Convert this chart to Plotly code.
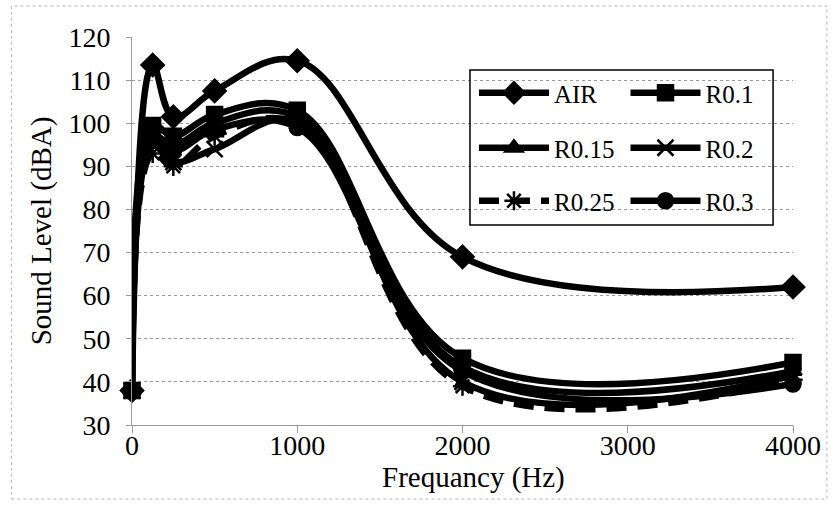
import plotly.graph_objects as go

# Octave-band centre frequencies (Hz) and measured sound levels (dBA)
frequency = [0, 125, 250, 500, 1000, 2000, 4000]
series_names = ["AIR", "R0.1", "R0.15", "R0.2", "R0.25", "R0.3"]
air = [38, 113.5, 101.5, 107.5, 114.5, 69, 62]
r010 = [38, 99.5, 97, 102, 103, 45.5, 44.5]
r015 = [38, 97, 95, 100, 101.5, 43.5, 42.5]
r020 = [38, 95, 91, 94, 100.5, 40, 41.5]
r025 = [38, 93, 90, 97, 100, 39, 40.5]
r030 = [38, 96, 93.5, 98.5, 99, 42.5, 39.5]
x_ticks = [0, 1000, 2000, 3000, 4000]
y_ticks = [30, 40, 50, 60, 70, 80, 90, 100, 110, 120]
x_title = "Frequancy (Hz)"
y_title = "Sound Level (dBA)"

W, H = 833, 524
L, R, T, B = 132, 38, 37, 99
PW, PH = W - L - R, H - T - B
FONT = "Liberation Serif, Times New Roman, serif"


def px_x(px):
    return (px - L) / PW


def px_y(py):
    return (H - B - py) / PH


values = [air, r010, r015, r020, r025, r030]
symbols = ["diamond", "square", "triangle-up", "x-thin-open", "asterisk-open", "circle"]
marker_sizes = [17, 15, 15, 16, 16, 15]
dashes = ["solid", "solid", "solid", "solid", "20px,11px", "solid"]
# legend slots: (symbol left edge px, row centre px)
legend_slots = [(475, 93), (627, 93), (475, 148), (627, 148), (475, 201), (627, 201)]

fig = go.Figure()
for i, (name, ys) in enumerate(zip(series_names, values)):
    lg = "legend" if i == 0 else f"legend{i + 1}"
    fig.add_trace(go.Scatter(
        x=frequency, y=ys, name=name, mode="lines+markers",
        line=dict(color="black", width=6.5, shape="spline", smoothing=1.1, dash=dashes[i]),
        marker=dict(symbol=symbols[i], size=marker_sizes[i], color="black",
                    line=dict(color="black", width=2.5)),
        cliponaxis=False,
        legend=lg,
    ))

legend_layout = {}
for i, (lx, ly) in enumerate(legend_slots):
    key = "legend" if i == 0 else f"legend{i + 1}"
    legend_layout[key] = dict(
        x=px_x(lx), y=px_y(ly), xanchor="left", yanchor="middle",
        xref="paper", yref="paper",
        bgcolor="rgba(0,0,0,0)", borderwidth=0,
        font=dict(family=FONT, size=25, color="black"),
        itemwidth=70, tracegroupgap=0,
    )

grid = dict(showgrid=True, gridcolor="#9a9a9a", gridwidth=1, griddash="dot")

fig.update_layout(
    width=W, height=H,
    margin=dict(l=L, r=R, t=T, b=B, pad=0),
    paper_bgcolor="white", plot_bgcolor="white",
    font=dict(family=FONT, size=28, color="black"),
    showlegend=True,
    xaxis=dict(
        range=[0, 4000], tickvals=x_ticks, ticktext=[str(v) for v in x_ticks],
        showgrid=False, zeroline=False,
        showline=True, linecolor="#9a9a9a", linewidth=1,
        ticks="outside", ticklen=7, tickcolor="#9a9a9a",
        ticklabelstandoff=-12,
        tickfont=dict(family=FONT, size=28),
    ),
    yaxis=dict(
        range=[30, 120], tickvals=y_ticks, ticktext=[str(v) for v in y_ticks],
        zeroline=False,
        showline=True, linecolor="#9a9a9a", linewidth=1,
        ticks="outside", ticklen=5, tickcolor="#9a9a9a",
        ticklabelstandoff=10,
        tickfont=dict(family=FONT, size=28),
        title=dict(text=y_title, font=dict(family=FONT, size=29), standoff=8),
        **grid,
    ),
    annotations=[
        dict(text=x_title, xref="paper", yref="paper",
             x=px_x(475), y=px_y(477), xanchor="center", yanchor="middle",
             showarrow=False, font=dict(family=FONT, size=29, color="black")),
    ],
    shapes=[
        # legend frame
        dict(type="rect", xref="paper", yref="paper",
             x0=px_x(471), x1=px_x(775), y0=px_y(225), y1=px_y(70),
             line=dict(color="black", width=1.5), fillcolor="rgba(0,0,0,0)", layer="above"),
        # chart-area border
        dict(type="rect", xref="paper", yref="paper",
             x0=px_x(11), x1=px_x(829), y0=px_y(499), y1=px_y(6),
             line=dict(color="#b5b5b5", width=1, dash="dot"), fillcolor="rgba(0,0,0,0)"),
    ],
    **legend_layout,
)

fig.write_html("out.html")
